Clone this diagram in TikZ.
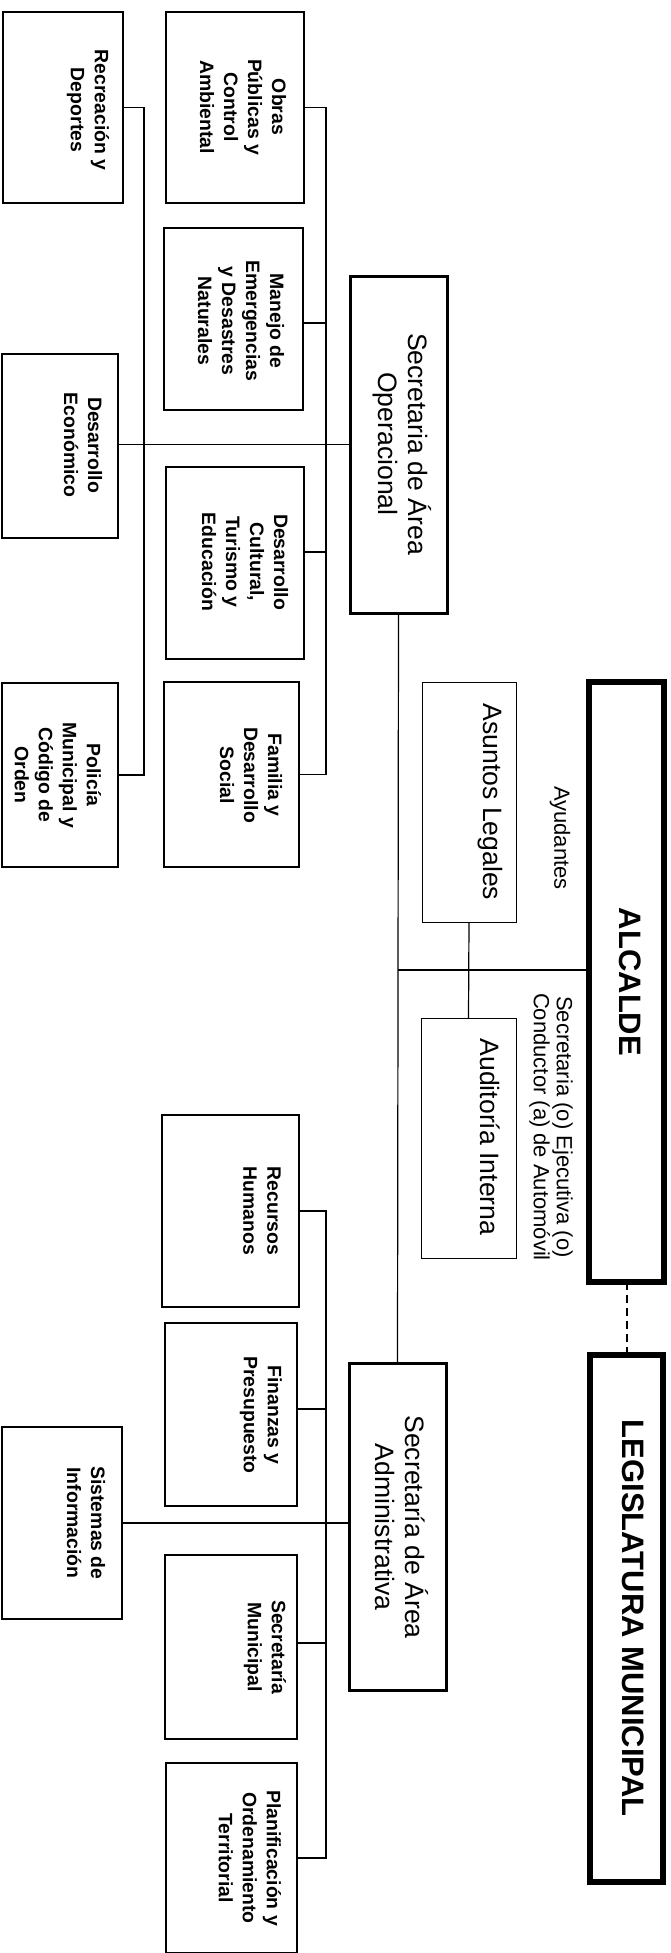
\documentclass[tikz,border=0pt]{standalone}
\usepackage{fontspec}
\setmainfont{Liberation Sans}
\begin{document}
\begin{tikzpicture}[x=0.5pt,y=-0.5pt,
  box/.style={draw, line width=0.8pt, inner sep=0pt, outer sep=0pt},
  thinbox/.style={draw, line width=0.5pt, inner sep=0pt, outer sep=0pt},
  secbox/.style={draw, line width=1.5pt, inner sep=0pt, outer sep=0pt},
  topbox/.style={draw, line width=3pt, inner sep=0pt, outer sep=0pt},
  conn/.style={line width=0.6pt},
  dashconn/.style={line width=1pt, dash pattern=on 4pt off 2.5pt},
  smalltxt/.style={rotate=-90, align=center, inner sep=0pt, font=\bfseries\fontsize{9.7}{12}\selectfont},
  sectxt/.style={rotate=-90, align=center, inner sep=0pt, font=\fontsize{13.3}{15}\selectfont},
  bigtxt/.style={rotate=-90, align=center, inner sep=0pt, font=\bfseries\fontsize{15.5}{18}\selectfont},
  notetxt/.style={rotate=-90, align=center, inner sep=0pt, font=\fontsize{11}{11.5}\selectfont}
]
\useasboundingbox[fill=white] (0,0) rectangle (670,1953);

% ---------- boxes ----------
\node[box, minimum width=60pt, minimum height=95.5pt] (recre) at (63,107.5) {};
\node[box, minimum width=69pt, minimum height=95.5pt] (obras) at (235,107.5) {};
\node[box, minimum width=69.5pt, minimum height=91pt] (manejo) at (233.5,319) {};
\node[box, minimum width=58pt, minimum height=92pt] (deseco) at (60,446) {};
\node[box, minimum width=69pt, minimum height=96pt] (descul) at (235,563) {};
\node[box, minimum width=67.5pt, minimum height=92.5pt] (familia) at (231.5,774.5) {};
\node[box, minimum width=58pt, minimum height=92pt] (policia) at (60,775) {};
\node[secbox, minimum width=48.5pt, minimum height=168.5pt] (secop) at (398.5,444.5) {};

\node[thinbox, minimum width=47pt, minimum height=120pt] (asuntos) at (469,802) {};
\node[thinbox, minimum width=47.5pt, minimum height=120pt] (audit) at (468.5,1138) {};
\node[topbox, minimum width=37.5pt, minimum height=300pt] (alcalde) at (626.5,982) {};
\node[topbox, minimum width=36.5pt, minimum height=263.5pt] (legis) at (626.5,1618.5) {};

\node[box, minimum width=68.5pt, minimum height=96pt] (recursos) at (230.5,1211) {};
\node[box, minimum width=66pt, minimum height=91.5pt] (finanzas) at (231,1414.5) {};
\node[box, minimum width=66pt, minimum height=92pt] (secmun) at (231,1647) {};
\node[box, minimum width=65.5pt, minimum height=95pt] (planif) at (231.5,1858) {};
\node[box, minimum width=60pt, minimum height=96pt] (sistemas) at (62,1523) {};
\node[secbox, minimum width=48.5pt, minimum height=163.5pt] (secadm) at (397.5,1526.5) {};

% ---------- texts ----------
\node[smalltxt] (tobras) at (243,107) {Obras\\Públicas y\\Control\\Ambiental};
\node[smalltxt] (trecre) at (88,110) {Recreación y\\Deportes};
\node[smalltxt] (tmanejo) at (241,321) {Manejo de\\Emergencias\\y Desastres\\Naturales};
\node[smalltxt] (tdeseco) at (83,445) {Desarrollo\\Económico};
\node[smalltxt] (tdescul) at (245,562) {Desarrollo\\Cultural,\\Turismo y\\Educación};
\node[smalltxt] (tfamilia) at (251,775) {Familia y\\Desarrollo\\Social};
\node[smalltxt] (tpolicia) at (58,775) {Policía\\Municipal y\\Código de\\Orden};
\node[sectxt] (tsecop) at (402,444) {Secretaria de Área\\Operacional};

\node[sectxt] (tasuntos) at (490,802) {Asuntos Legales};
\node[sectxt] (taudit) at (490,1137) {Auditoría Interna};
\node[notetxt] (tayud) at (560,838) {Ayudantes};
\node[notetxt] (tsecej) at (551,1127) {Secretaria (o) Ejecutiva (o)\\Conductor (a) de Automóvil};
\node[bigtxt] (talc) at (630,982) {ALCALDE};
\node[bigtxt] (tlegis) at (633,1618) {LEGISLATURA MUNICIPAL};

\node[smalltxt] (trecursos) at (262,1211) {Recursos\\Humanos};
\node[smalltxt] (tfin) at (261,1415) {Finanzas y\\Presupuesto};
\node[smalltxt] (tsecmun) at (265,1647) {Secretaría\\Municipal};
\node[smalltxt] (tplanif) at (250,1858) {Planificación y\\Ordenamiento\\Territorial};
\node[smalltxt] (tsist) at (86,1523) {Sistemas de\\Información};
\node[sectxt] (tsecadm) at (402,1527) {Secretaría de Área\\Administrativa};

% ---------- bus coordinates ----------
\coordinate (busA) at (144,0);
\coordinate (busB) at (326,0);
\coordinate (busC) at (326,1000);
\coordinate (junc) at (398,970);

% ---------- connectors ----------
% operational, outer bus
\draw[conn] (recre.east) -- (recre.east -| busA) -- (policia.east -| busA) -- (policia.east);
% operational, inner bus
\draw[conn] (obras.east) -- (obras.east -| busB) -- (familia.east -| busB) -- (familia.east);
\draw[conn] ([yshift=-2pt]manejo.east) -- ([yshift=-2pt]manejo.east -| busB);
\draw[conn] ([yshift=5.5pt]descul.east) -- ([yshift=5.5pt]descul.east -| busB);
% economic development to secretaria operacional
\draw[conn] (deseco.east |- secop.west) -- (secop.west);
% main spine
\draw[conn] (secop.south) -- (secadm.north);
\draw[conn] (junc) -- (junc -| alcalde.west);
\draw[conn] (asuntos.south) -- (audit.north);
\draw[dashconn] (alcalde.south) -- (legis.north);
% administrative bus
\draw[conn] (recursos.east) -- (recursos.east -| busC) -- (planif.east -| busC) -- (planif.east);
\draw[conn] ([yshift=2.75pt]finanzas.east) -- ([yshift=2.75pt]finanzas.east -| busC);
\draw[conn] ([yshift=2pt]secmun.east) -- ([yshift=2pt]secmun.east -| busC);
\draw[conn] (sistemas.east) -- (sistemas.east -| secadm.west);
\end{tikzpicture}
\end{document}
